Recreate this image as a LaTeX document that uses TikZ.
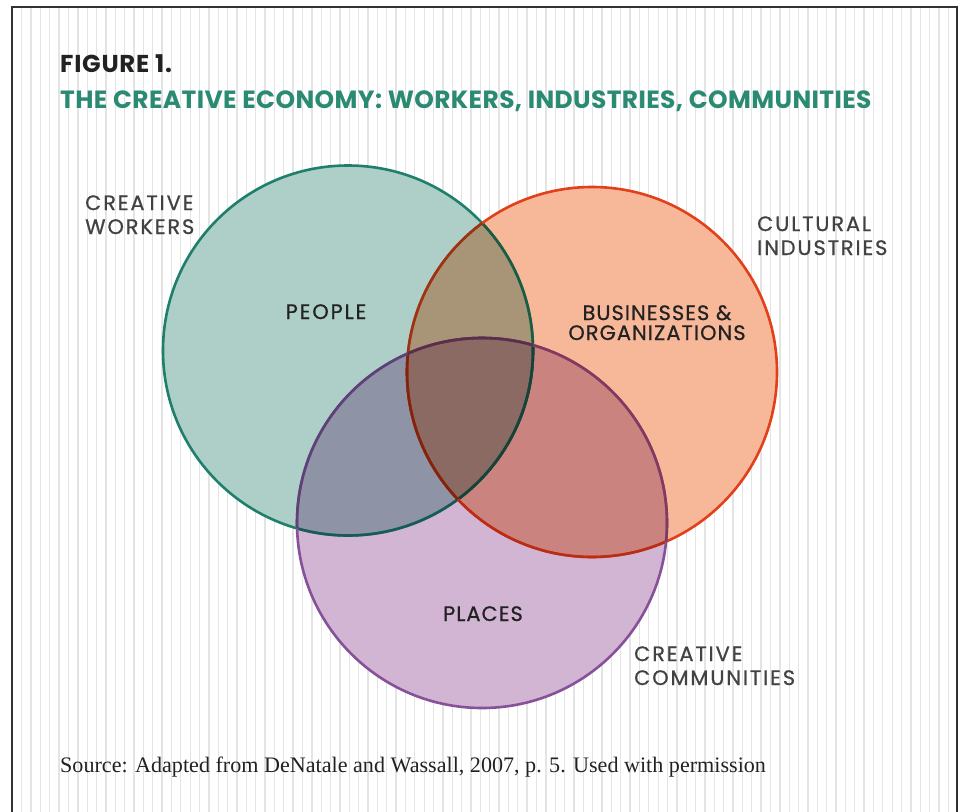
\documentclass[tikz,border=0pt]{standalone}
\usepackage{fontspec}
\setmainfont{Liberation Serif}
\newfontfamily\geo{Poppins}
\newfontfamily\geot[LetterSpace=1.6]{Poppins}
\newfontfamily\geof[LetterSpace=3]{Poppins}
\newfontfamily\geol[FakeBold=0.7,LetterSpace=9]{Poppins}
\newfontfamily\geoi[FakeBold=0.7,LetterSpace=5]{Poppins}
\newfontfamily\geop[FakeBold=0.7,LetterSpace=9]{Poppins}
\definecolor{tealF}{RGB}{173,207,199}
\definecolor{orF}{RGB}{247,184,153}
\definecolor{puF}{RGB}{209,181,211}
\definecolor{abF}{RGB}{168,149,119}
\definecolor{acF}{RGB}{142,147,165}
\definecolor{bcF}{RGB}{202,131,127}
\definecolor{abcF}{RGB}{138,106,98}
\definecolor{tealS}{RGB}{31,127,108}
\definecolor{tealSb}{RGB}{30,92,65}
\definecolor{tealSc}{RGB}{25,90,89}
\definecolor{tealSbc}{RGB}{25,65,54}
\definecolor{orS}{RGB}{226,64,27}
\definecolor{orSa}{RGB}{153,52,21}
\definecolor{orSc}{RGB}{185,45,22}
\definecolor{orSac}{RGB}{125,37,17}
\definecolor{puS}{RGB}{135,81,154}
\definecolor{puSa}{RGB}{92,66,120}
\definecolor{puSb}{RGB}{131,58,92}
\definecolor{puSab}{RGB}{89,48,72}
\definecolor{titleC}{RGB}{43,138,114}
\definecolor{labC}{RGB}{66,66,66}
\definecolor{inC}{RGB}{34,34,34}
\definecolor{stripeC}{RGB}{228,228,228}
\definecolor{frameC}{RGB}{50,50,50}
\begin{document}
\begin{tikzpicture}[x=1bp,y=-1bp,
  stripe/.style={draw=stripeC,line width=1.3bp},
  frame/.style={draw=frameC,line width=1.4bp},
  ring/.style={line width=2.6bp},
  txt/.style={inner sep=0pt,anchor=base west},
  outer/.style={txt,text=labC,align=left,font=\geol\fontsize{21}{24}\selectfont},
  inner/.style={inner sep=0pt,anchor=base,text=inC,align=center,font=\geoi\fontsize{21}{20}\selectfont}]
\def\R{185}
\coordinate (cA) at (348,350.5);
\coordinate (cB) at (592,372);
\coordinate (cC) at (482,523);
\useasboundingbox (0,0) rectangle (961,812);
\fill[white] (0,0) rectangle (961,812);
\foreach \i in {0,...,99} \draw[stripe] ({21.7+9.36*\i},7) -- ({21.7+9.36*\i},812);
\draw[frame] (12,812) -- (12,7) -- (957,7) -- (957,812);
% fills
\fill[tealF] (cA) circle (\R);
\fill[orF] (cB) circle (\R);
\fill[puF] (cC) circle (\R);
\begin{scope}\clip (cA) circle (\R); \fill[abF] (cB) circle (\R); \end{scope}
\begin{scope}\clip (cA) circle (\R); \fill[acF] (cC) circle (\R); \end{scope}
\begin{scope}\clip (cB) circle (\R); \fill[bcF] (cC) circle (\R); \end{scope}
\begin{scope}\clip (cA) circle (\R); \clip (cB) circle (\R); \fill[abcF] (cC) circle (\R); \end{scope}
% strokes
\draw[ring,tealS] (cA) circle (\R);
\begin{scope}\clip (cB) circle (\R); \draw[ring,tealSb] (cA) circle (\R); \end{scope}
\begin{scope}\clip (cC) circle (\R); \draw[ring,tealSc] (cA) circle (\R); \end{scope}
\begin{scope}\clip (cB) circle (\R); \clip (cC) circle (\R); \draw[ring,tealSbc] (cA) circle (\R); \end{scope}
\draw[ring,orS] (cB) circle (\R);
\begin{scope}\clip (cA) circle (\R); \draw[ring,orSa] (cB) circle (\R); \end{scope}
\begin{scope}\clip (cC) circle (\R); \draw[ring,orSc] (cB) circle (\R); \end{scope}
\begin{scope}\clip (cA) circle (\R); \clip (cC) circle (\R); \draw[ring,orSac] (cB) circle (\R); \end{scope}
\draw[ring,puS] (cC) circle (\R);
\begin{scope}\clip (cA) circle (\R); \draw[ring,puSa] (cC) circle (\R); \end{scope}
\begin{scope}\clip (cB) circle (\R); \draw[ring,puSb] (cC) circle (\R); \end{scope}
\begin{scope}\clip (cA) circle (\R); \clip (cB) circle (\R); \draw[ring,puSab] (cC) circle (\R); \end{scope}
% texts
\node[txt,text=inC,font=\geof\bfseries\fontsize{24.5}{28}\selectfont] (fig) at (60,73) {FIGURE 1.};
\node[txt,text=titleC,font=\geot\bfseries\fontsize{25}{28}\selectfont] (title) at (60,108) {THE CREATIVE ECONOMY: WORKERS, INDUSTRIES, COMMUNITIES};
\node[outer] (cw) at (85,234) {CREATIVE\\WORKERS};
\node[outer] (ci) at (757,255) {CULTURAL\\INDUSTRIES};
\node[outer] (cc) at (634,685) {CREATIVE\\COMMUNITIES};
\node[inner,font=\geop\fontsize{21}{20}\selectfont] (people) at (326,319) {PEOPLE};
\node[inner] (biz) at (657,340) {BUSINESSES \&\\ORGANIZATIONS};
\node[inner] (places) at (483,621) {PLACES};
\node[txt,text=inC,font=\fontsize{22.2}{24}\selectfont] (src) at (60,772) {Source: Adapted from DeNatale and Wassall, 2007, p. 5. Used with permission};
\end{tikzpicture}
\end{document}
